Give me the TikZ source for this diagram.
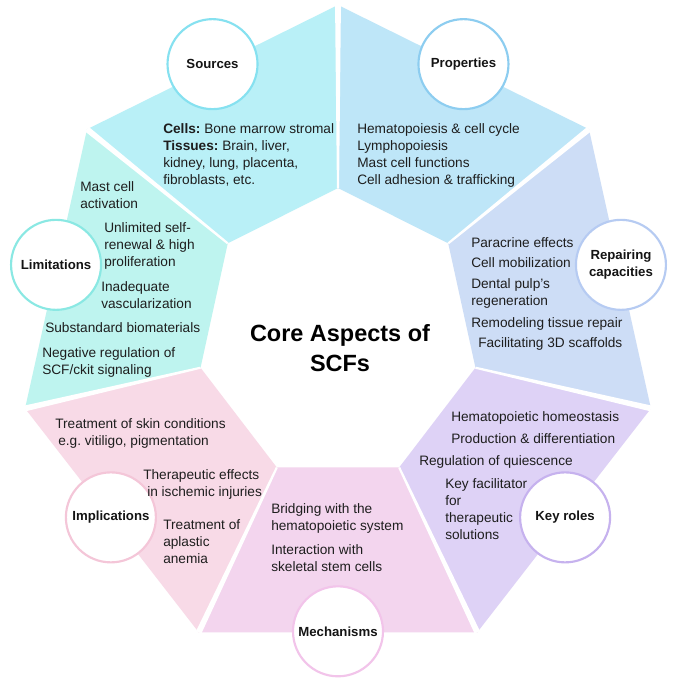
\documentclass[tikz,border=0pt]{standalone}
\usepackage{fontspec}
\setmainfont{Liberation Sans}
\usetikzlibrary{calc}
\frenchspacing
\definecolor{cSrc}{HTML}{B9F0F7}
\definecolor{cPro}{HTML}{BEE6F8}
\definecolor{cRep}{HTML}{CDDDF6}
\definecolor{cKey}{HTML}{DED2F6}
\definecolor{cMec}{HTML}{F3D5EE}
\definecolor{cImp}{HTML}{F8DAE7}
\definecolor{cLim}{HTML}{BEF4EF}
\definecolor{bSrc}{HTML}{86E1F0}
\definecolor{bPro}{HTML}{8DCDF0}
\definecolor{bRep}{HTML}{B6CBF2}
\definecolor{bKey}{HTML}{C6B2EE}
\definecolor{bMec}{HTML}{F2C4EA}
\definecolor{bImp}{HTML}{F4C6D8}
\definecolor{bLim}{HTML}{8AE8E3}
\definecolor{txtc}{HTML}{1E1E1E}
\begin{document}
\begin{tikzpicture}[x=0.75pt,y=-0.75pt,
  lab/.style={circle, fill=white, line width=1.6pt, minimum size=67.5pt, inner sep=0pt,
    font=\bfseries\fontsize{9.9}{12.75}\selectfont, align=center, text=black!92},
  txt/.style={anchor=north west, inner sep=0pt, align=left,
    font=\fontsize{10.25}{12.75}\selectfont, text=txtc},
  ttl/.style={inner sep=0pt, align=center, font=\bfseries\fontsize{17.6}{22.5}\selectfont, text=black}]
\useasboundingbox (0,0) rectangle (677,687);
\fill[white] (0,0) rectangle (677,687);
\foreach \k in {0,...,7}{
  \pgfmathsetmacro\a{90+\k*360/7}
  \coordinate (o\k) at ({338+321*cos(\a)},{335-330*sin(\a)});
  \coordinate (i\k) at ({338+141*cos(\a)},{335-147*sin(\a)});
}
% sectors
\fill[cSrc] (o0) -- (o1) -- (i1) -- (i0) -- cycle;
\fill[cLim] (o1) -- (o2) -- (i2) -- (i1) -- cycle;
\fill[cImp] (o2) -- (o3) -- (i3) -- (i2) -- cycle;
\fill[cMec] (o3) -- (o4) -- (i4) -- (i3) -- cycle;
\fill[cKey] (o4) -- (o5) -- (i5) -- (i4) -- cycle;
\fill[cRep] (o5) -- (o6) -- (i6) -- (i5) -- cycle;
\fill[cPro] (o6) -- (o7) -- (i7) -- (i6) -- cycle;
% white gaps between sectors
\foreach \k in {0,...,6}{
  \fill[white] ($(o\k)!2.2pt!90:(i\k)$) -- ($(o\k)!2.2pt!-90:(i\k)$)
     -- ($(i\k)!0.8pt!90:(o\k)$) -- ($(i\k)!0.8pt!-90:(o\k)$) -- cycle;
}
% circles
\node[lab, draw=bSrc] (sources) at ($(o0)!0.5!(o1)+(0,-3)$) {Sources};
\node[lab, draw=bPro] (properties) at ($(o6)!0.5!(o7)+(0,-3)$) {Properties};
\node[lab, draw=bRep] (repairing) at ($(o5)!0.5!(o6)+(1,-4)$) {Repairing\\capacities};
\node[lab, draw=bKey] (keyroles) at ($(o4)!0.5!(o5)+(1,-3)$) {Key roles};
\node[lab, draw=bMec] (mechanisms) at ($(o3)!0.5!(o4)+(0,-1)$) {Mechanisms};
\node[lab, draw=bImp] (implications) at ($(o2)!0.5!(o3)+(-1,-3)$) {Implications};
\node[lab, draw=bLim] (limitations) at ($(o1)!0.5!(o2)+(0,-4)$) {Limitations};
% title
\node[ttl] (core) at (340,348) {Core Aspects of\\SCFs};
% Sources
\node[txt] (srcT) at (163,123) {\textbf{Cells:} Bone marrow stromal\\\textbf{Tissues:} Brain, liver,\\kidney, lung, placenta,\\fibroblasts, etc.};
% Properties
\node[txt] (proT) at (357,123) {Hematopoiesis \& cell cycle\\Lymphopoiesis\\Mast cell functions\\Cell adhesion \& trafficking};
% Repairing capacities
\node[txt] (rep1) at (471,237) {Paracrine effects};
\node[txt] (rep2) at (471,257) {Cell mobilization};
\node[txt] (rep3) at (471,278) {Dental pulp's\\regeneration};
\node[txt] (rep4) at (471,317) {Remodeling tissue repair};
\node[txt] (rep5) at (478,337) {Facilitating 3D scaffolds};
% Key roles
\node[txt] (key1) at (451,411) {Hematopoietic homeostasis};
\node[txt] (key2) at (451,433) {Production \& differentiation};
\node[txt] (key3) at (419,455) {Regulation of quiescence};
\node[txt] (key4) at (445,478) {Key facilitator\\for\\therapeutic\\solutions};
% Mechanisms
\node[txt] (mec1) at (271,503) {Bridging with the\\hematopoietic system};
\node[txt] (mec2) at (271,544) {Interaction with\\skeletal stem cells};
% Implications
\node[txt] (imp1) at (55,418) {Treatment of skin conditions\\\hspace{2.3pt}e.g. vitiligo, pigmentation};
\node[txt] (imp2) at (143,469) {Therapeutic effects\\\hspace{3pt}in ischemic injuries};
\node[txt] (imp3) at (163,519) {Treatment of\\aplastic\\anemia};
% Limitations
\node[txt] (lim1) at (80,181) {Mast cell\\activation};
\node[txt] (lim2) at (104,222) {Unlimited self-\\renewal \& high\\proliferation};
\node[txt] (lim3) at (101,281) {Inadequate\\vascularization};
\node[txt] (lim4) at (45,322) {Substandard biomaterials};
\node[txt] (lim5) at (42,347) {Negative regulation of\\SCF/ckit signaling};
\end{tikzpicture}
\end{document}
